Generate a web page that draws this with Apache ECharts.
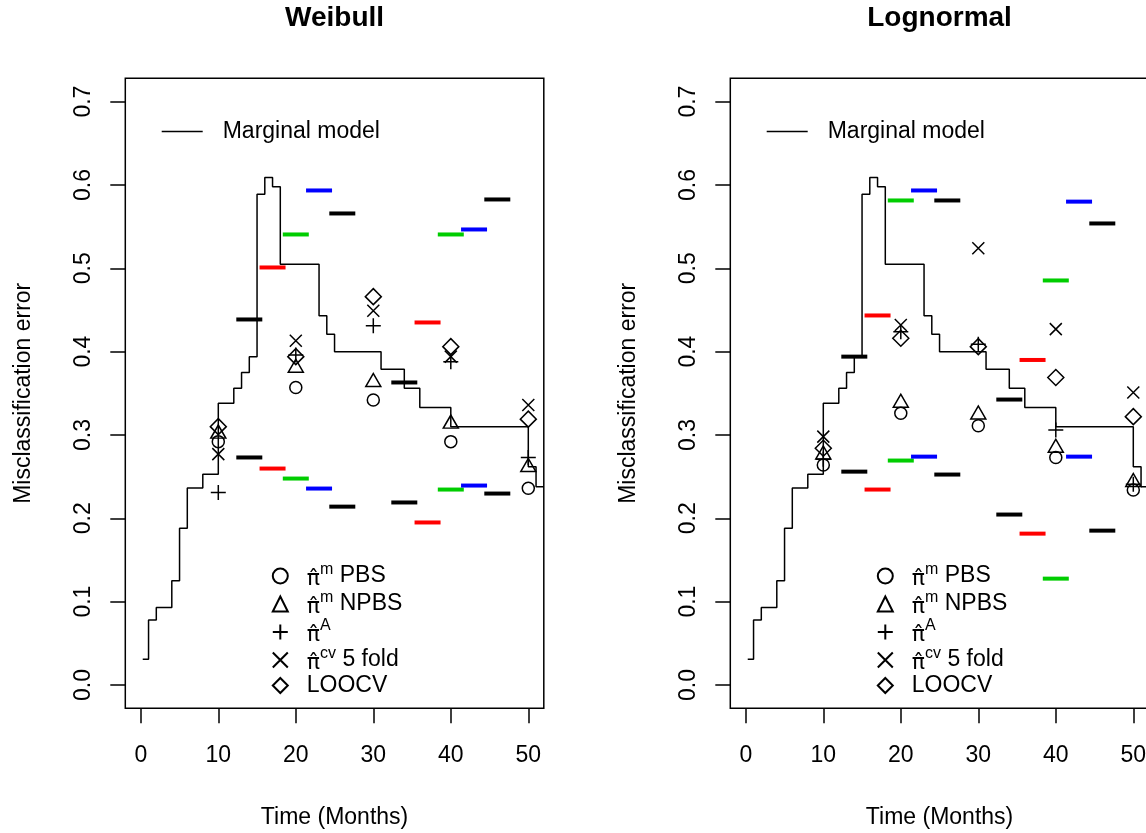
<!DOCTYPE html>
<html><head><meta charset="utf-8">
<script src="https://cdn.jsdelivr.net/npm/echarts@6/dist/echarts.min.js"></script>
<style>html,body{margin:0;padding:0;background:#fff}#c{width:1146px;height:833px}</style>
</head><body><div id="c"></div>
<script>
// ---------- data ----------
const panelTitles = ['Weibull', 'Lognormal'];
const xTicks = [0, 10, 20, 30, 40, 50];
const yTicks = [0, 0.1, 0.2, 0.3, 0.4, 0.5, 0.6, 0.7];

// marginal model step function (same in both panels)
const stepTimes  = [0.25, 1, 2, 4, 5, 6, 8, 10, 12, 13, 14, 15, 16, 17, 18, 23, 24, 25, 31, 34, 36, 40, 50, 51, 52];
const stepValues = [0.031, 0.078, 0.093, 0.125, 0.188, 0.2365, 0.253, 0.338, 0.356, 0.375, 0.394, 0.589, 0.609, 0.598, 0.505, 0.443, 0.421, 0.400, 0.379, 0.356, 0.333, 0.310, 0.262, 0.238, 0.238];

const markerTimes = [10, 20, 30, 40, 50];
const weibullPBS   = [0.292, 0.357, 0.342, 0.292, 0.236];
const weibullNPBS  = [0.304, 0.383, 0.366, 0.316, 0.264];
const weibullA     = [0.231, 0.396, 0.431, 0.388, 0.273];
const weibullCV    = [0.277, 0.413, 0.449, 0.394, 0.336];
const weibullLOOCV = [0.310, 0.394, 0.466, 0.406, 0.319];

const lognormPBS   = [0.264, 0.326, 0.311, 0.273, 0.234];
const lognormNPBS  = [0.279, 0.341, 0.327, 0.287, 0.246];
const lognormA     = [0.271, 0.424, 0.409, 0.306, 0.241];
const lognormCV    = [0.298, 0.432, 0.524, 0.427, 0.351];
const lognormLOOCV = [0.284, 0.416, 0.406, 0.369, 0.322];

// interval bars (upper and lower ends) centred at these times
const barTimes = [14, 17, 20, 23, 26, 34, 37, 40, 43, 46];
const weibullUpper = [0.4386, 0.501, 0.5406, 0.5934, 0.5658, 0.363, 0.435, 0.5406, 0.5466, 0.5826];
const weibullLower = [0.273, 0.2597, 0.2477, 0.2357, 0.214, 0.219, 0.195, 0.2345, 0.2393, 0.2297];
const lognormUpper = [0.394, 0.4434, 0.5814, 0.5934, 0.5814, 0.3425, 0.390, 0.4854, 0.580, 0.5538];
const lognormLower = [0.256, 0.2345, 0.2693, 0.274, 0.2525, 0.2045, 0.1816, 0.1276, 0.274, 0.1852];

// ---------- styles ----------
const barColors = ['#000000', '#ff0000', '#00cd00', '#0000ff', '#000000', '#000000', '#ff0000', '#00cd00', '#0000ff', '#000000'];
const FONT = '"Liberation Sans", Arial, Helvetica, sans-serif';
const gridLefts = [125.3, 730.3];
const GRID_TOP = 78.3, GRID_W = 418.5, GRID_H = 630;

const markerDefs = [
  {key: 'PBS',   symbol: 'circle',   size: 12},
  {key: 'NPBS',  symbol: 'triangle', size: [15, 13]},
  {key: 'A',     symbol: 'path://M1,0L1,2M0,1L2,1', size: 15},
  {key: 'CV',    symbol: 'path://M0,0L2,2M0,2L2,0', size: 12},
  {key: 'LOOCV', symbol: 'diamond',  size: 16}
];
const panelMarkers = [
  {PBS: weibullPBS, NPBS: weibullNPBS, A: weibullA, CV: weibullCV, LOOCV: weibullLOOCV},
  {PBS: lognormPBS, NPBS: lognormNPBS, A: lognormA, CV: lognormCV, LOOCV: lognormLOOCV}
];
const panelBars = [[weibullUpper, weibullLower], [lognormUpper, lognormLower]];

const grids = [], xAxes = [], yAxes = [], series = [], legends = [], graphics = [];

for (let p = 0; p < 2; p++) {
  grids.push({left: gridLefts[p], top: GRID_TOP, width: GRID_W, height: GRID_H,
    show: true, borderColor: '#000', borderWidth: 1.5, backgroundColor: 'transparent',
    containLabel: false, outerBoundsMode: 'none'});
  xAxes.push({type: 'value', gridIndex: p, min: -2, max: 52, position: 'bottom',
    axisLine: {show: false, onZero: false}, splitLine: {show: false},
    axisTick: {show: true, inside: false, customValues: xTicks, length: 15, lineStyle: {color: '#000', width: 1.5}},
    axisLabel: {customValues: xTicks, fontSize: 23, fontFamily: FONT, color: '#000', margin: 36},
    name: 'Time (Months)', nameLocation: 'middle', nameGap: 98,
    nameTextStyle: {fontSize: 23, fontFamily: FONT, color: '#000'}});
  yAxes.push({type: 'value', gridIndex: p, min: -0.028, max: 0.728, position: 'left',
    axisLine: {show: false, onZero: false}, splitLine: {show: false},
    axisTick: {show: true, inside: false, customValues: yTicks, length: 15, lineStyle: {color: '#000', width: 1.5}},
    axisLabel: {customValues: yTicks, rotate: 90, fontSize: 23, fontFamily: FONT, color: '#000', margin: 30,
      formatter: v => v.toFixed(1)},
    name: 'Misclassification error', nameLocation: 'middle', nameGap: 90, nameRotate: 90,
    nameTextStyle: {fontSize: 23, fontFamily: FONT, color: '#000'}});

  series.push({name: 'Marginal model', type: 'line', xAxisIndex: p, yAxisIndex: p,
    step: 'end', symbol: 'none', lineStyle: {color: '#000', width: 1.5}, itemStyle: {color: '#000'},
    data: stepTimes.map((t, i) => [t, stepValues[i]]), z: 2, silent: true});

  const barData = [];
  panelBars[p].forEach(arr => arr.forEach((v, i) => barData.push({value: [barTimes[i], v], itemStyle: {color: barColors[i], opacity: 1}})));
  series.push({name: 'bars' + p, type: 'scatter', xAxisIndex: p, yAxisIndex: p,
    symbol: 'rect', symbolSize: [26, 4], itemStyle: {opacity: 1}, data: barData, z: 3, silent: true});

  markerDefs.forEach(m => {
    series.push({name: m.key, type: 'scatter', xAxisIndex: p, yAxisIndex: p,
      symbol: m.symbol, symbolSize: m.size,
      itemStyle: {color: 'transparent', borderColor: '#000', borderWidth: 1.5, opacity: 1},
      data: markerTimes.map((t, i) => [t, panelMarkers[p][m.key][i]]), z: 4, silent: true});
  });

  const cx = gridLefts[p] + GRID_W / 2;
  graphics.push({type: 'text', x: cx, y: 18, style: {text: panelTitles[p], textAlign: 'center', textVerticalAlign: 'middle',
    font: 'bold 28px ' + FONT, fill: '#000'}});

  legends.push({data: [{name: 'Marginal model', icon: 'rect'}], left: gridLefts[p] + 36.4, top: 120, padding: 0,
    itemWidth: 41, itemHeight: 1.5, selectedMode: false,
    textStyle: {fontSize: 23, fontFamily: FONT, color: '#000', padding: [0, 0, 0, 15]}});
  legends.push({data: markerDefs.map(m => m.key), orient: 'vertical', left: gridLefts[p] + 146.5, top: 562, padding: 0,
    itemWidth: 15, itemHeight: 15, itemGap: 0, selectedMode: false,
    formatter: n => ({
      PBS: '{pi|π\u0302}{sup|m}{t| PBS}',
      NPBS: '{pi|π\u0302}{sup|m}{t| NPBS}',
      A: '{pi|π\u0302}{sup|A}',
      CV: '{pi|π\u0302}{sup|cv}{t| 5 fold}',
      LOOCV: '{t|LOOCV}'
    })[n],
    textStyle: {fontSize: 23, fontFamily: FONT, color: '#000', padding: [0, 0, 0, 14],
      rich: {
        pi: {fontSize: 22, fontFamily: '"DejaVu Sans", sans-serif', color: '#000', lineHeight: 28, verticalAlign: 'bottom'},
        sup: {fontSize: 16, fontFamily: FONT, color: '#000', lineHeight: 16, verticalAlign: 'top'},
        t: {fontSize: 23, fontFamily: FONT, color: '#000', lineHeight: 28}
      }}});
}

const chart = echarts.init(document.getElementById('c'), null, {renderer: 'canvas'});
chart.setOption({
  animation: false,
  backgroundColor: '#fff',
  grid: grids, xAxis: xAxes, yAxis: yAxes, series: series, legend: legends, graphic: graphics
});
</script></body></html>
